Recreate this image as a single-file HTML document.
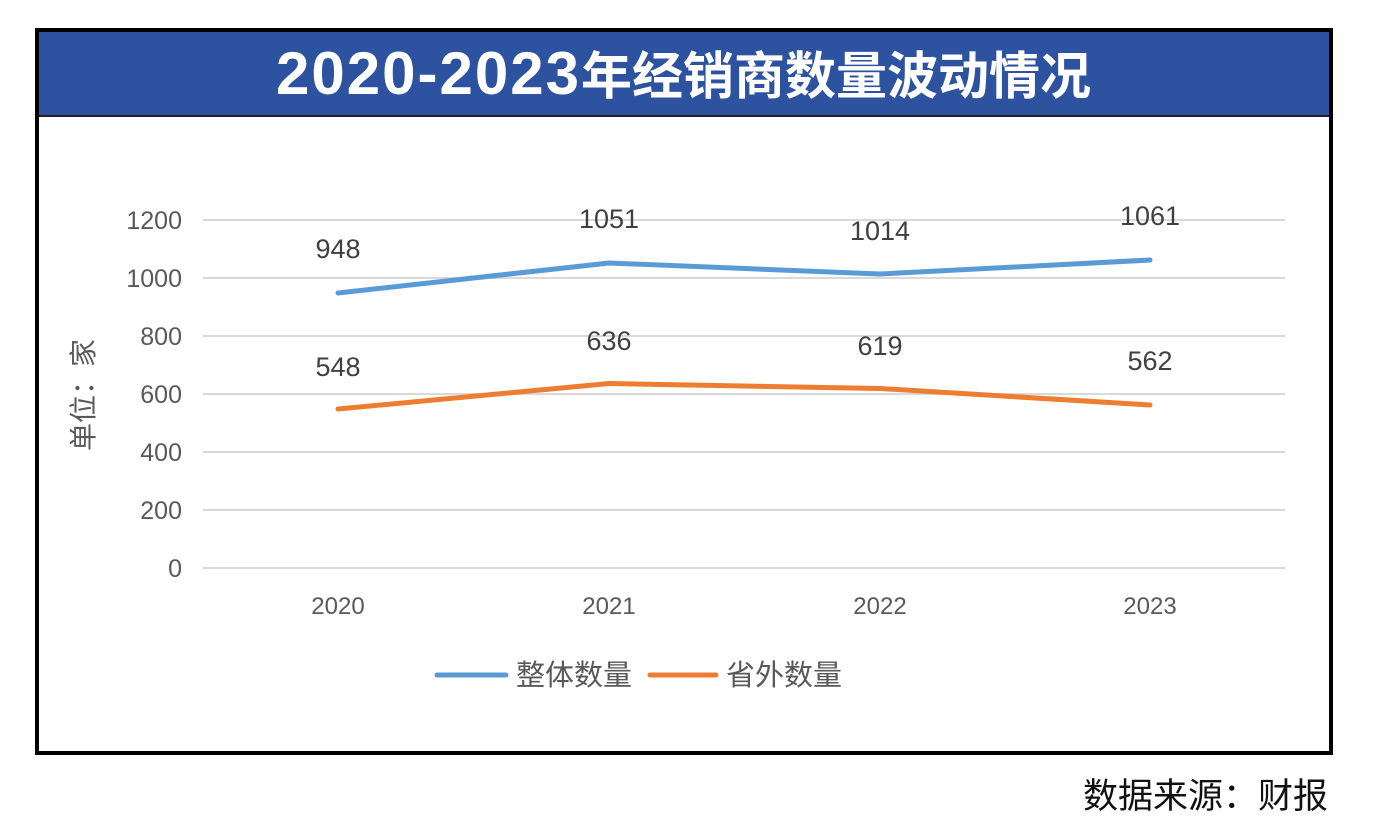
<!DOCTYPE html>
<html>
<head>
<meta charset="utf-8">
<style>
html,body{margin:0;padding:0;background:#fff;}
body{width:1399px;height:838px;overflow:hidden;}
svg{display:block;}
</style>
</head>
<body>
<svg width="1399" height="838" viewBox="0 0 1399 838" xmlns="http://www.w3.org/2000/svg">
  <rect x="0" y="0" width="1399" height="838" fill="#ffffff"/>
  <!-- outer frame -->
  <rect x="37" y="30" width="1294" height="723" fill="#ffffff" stroke="#000" stroke-width="4"/>
  <!-- title bar -->
  <rect x="39" y="32" width="1290" height="83" fill="#2d529f"/>
  <line x1="39" y1="116" x2="1329" y2="116" stroke="#222" stroke-width="2"/>
  <text x="276" y="94" fill="#ffffff" font-family="'Liberation Sans','Noto Sans CJK SC',sans-serif" font-weight="bold"><tspan font-size="60" letter-spacing="2">2020-2023</tspan><tspan font-size="51">年经销商数量波动情况</tspan></text>

  <!-- gridlines -->
  <g stroke="#d9d9d9" stroke-width="2">
    <line x1="203" y1="220" x2="1285" y2="220"/>
    <line x1="203" y1="278" x2="1285" y2="278"/>
    <line x1="203" y1="336" x2="1285" y2="336"/>
    <line x1="203" y1="394" x2="1285" y2="394"/>
    <line x1="203" y1="452" x2="1285" y2="452"/>
    <line x1="203" y1="510" x2="1285" y2="510"/>
    <line x1="203" y1="568" x2="1285" y2="568"/>
  </g>

  <!-- y tick labels -->
  <g fill="#595959" font-family="'Liberation Sans',sans-serif" font-size="25" text-anchor="end">
    <text x="182" y="229">1200</text>
    <text x="182" y="287">1000</text>
    <text x="182" y="345">800</text>
    <text x="182" y="403">600</text>
    <text x="182" y="461">400</text>
    <text x="182" y="519">200</text>
    <text x="182" y="577">0</text>
  </g>

  <!-- y axis title -->
  <text transform="translate(93,395) rotate(-90)" text-anchor="middle" fill="#595959" font-family="'Liberation Sans','Noto Sans CJK SC',sans-serif" font-size="28">单位：家</text>

  <!-- x labels -->
  <g fill="#595959" font-family="'Liberation Sans',sans-serif" font-size="24" text-anchor="middle">
    <text x="338" y="614">2020</text>
    <text x="609" y="614">2021</text>
    <text x="880" y="614">2022</text>
    <text x="1150" y="614">2023</text>
  </g>

  <!-- series -->
  <polyline points="338,293 609,263 880,274 1150,260" fill="none" stroke="#5b9bd5" stroke-width="5" stroke-linejoin="round" stroke-linecap="round"/>
  <polyline points="338,409 609,383.5 880,388.5 1150,405" fill="none" stroke="#ed7d31" stroke-width="5" stroke-linejoin="round" stroke-linecap="round"/>

  <!-- data labels -->
  <g fill="#404040" font-family="'Liberation Sans',sans-serif" font-size="27" text-anchor="middle">
    <text x="338" y="258">948</text>
    <text x="609" y="228">1051</text>
    <text x="880" y="240">1014</text>
    <text x="1150" y="225">1061</text>
    <text x="338" y="376">548</text>
    <text x="609" y="350">636</text>
    <text x="880" y="355">619</text>
    <text x="1150" y="370">562</text>
  </g>

  <!-- legend -->
  <line x1="437" y1="675" x2="506" y2="675" stroke="#5b9bd5" stroke-width="5" stroke-linecap="round"/>
  <text x="516" y="685" fill="#595959" font-family="'Liberation Sans','Noto Sans CJK SC',sans-serif" font-size="29">整体数量</text>
  <line x1="650" y1="675" x2="716" y2="675" stroke="#ed7d31" stroke-width="5" stroke-linecap="round"/>
  <text x="726" y="685" fill="#595959" font-family="'Liberation Sans','Noto Sans CJK SC',sans-serif" font-size="29">省外数量</text>

  <!-- source -->
  <text x="1328" y="808" text-anchor="end" fill="#111" font-family="'Liberation Sans','Noto Sans CJK SC',sans-serif" font-size="35">数据来源：财报</text>
</svg>
</body>
</html>
